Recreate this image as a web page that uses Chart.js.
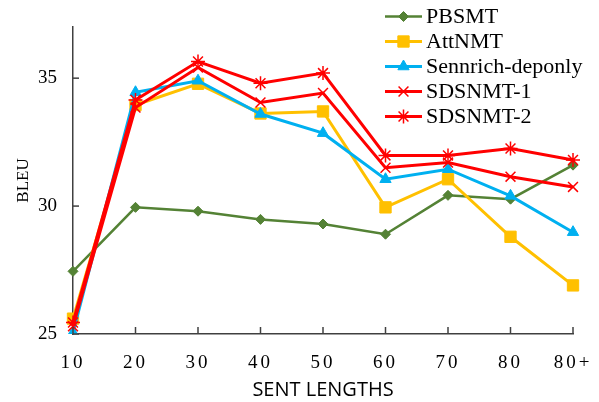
<!DOCTYPE html>
<html>
<head>
<meta charset="utf-8">
<script src="https://cdn.jsdelivr.net/npm/chart.js"></script>
<style>
html,body{margin:0;padding:0;background:#fff;}
#wrap{width:599px;height:402px;}
</style>
</head>
<body>
<div id="wrap"><canvas id="c" width="599" height="402"></canvas></div>
<script>
const categories = ['10','20','30','40','50','60','70','80','80+'];
const seriesNames = ['PBSMT','AttNMT','Sennrich-deponly','SDSNMT-1','SDSNMT-2'];
const pbsmt    = [27.45, 29.95, 29.8, 29.48, 29.3, 28.9, 30.42, 30.27, 31.6];
const attnmt   = [25.6, 33.95, 34.78, 33.62, 33.7, 29.95, 31.05, 28.8, 26.9];
const sennrich = [25.05, 34.45, 34.9, 33.6, 32.85, 31.05, 31.44, 30.4, 28.98];
const sdsnmt1  = [25.3, 33.85, 35.42, 34.05, 34.42, 31.5, 31.7, 31.15, 30.75];
const sdsnmt2  = [25.45, 34.15, 35.65, 34.8, 35.2, 31.98, 31.98, 32.25, 31.8];
const yTicks = [25, 30, 35];
const yMin = 25, yMax = 37;

const colors = ['#548235','#FFC000','#00B0F0','#FF0000','#FF0000'];
const styles = [
  {pointStyle:'rectRot', radius:5, lw:2.5, pbw:1},
  {pointStyle:'rect', radius:8, lw:3, pbw:1},
  {pointStyle:'triangle', radius:6.5, lw:3, pbw:1},
  {pointStyle:'crossRot', radius:7, lw:3, pbw:1.5},
  {pointStyle:'star', radius:7, lw:3, pbw:1.5}
];
const allData = [pbsmt, attnmt, sennrich, sdsnmt1, sdsnmt2];

const datasets = allData.map((d,i)=>({
  label: seriesNames[i],
  data: d,
  borderColor: colors[i],
  backgroundColor: colors[i],
  borderWidth: styles[i].lw,
  pointStyle: styles[i].pointStyle,
  pointRadius: styles[i].radius,
  pointHoverRadius: styles[i].radius,
  pointBorderWidth: styles[i].pbw,
  pointBackgroundColor: colors[i],
  pointBorderColor: colors[i],
  tension: 0,
  fill: false,
  order: 5 - i
}));

const AXIS_COLOR = '#404040';

function drawMarker(ctx, style, x, y, color){
  if (Chart.helpers && Chart.helpers.drawPoint){
    ctx.save();
    ctx.fillStyle = color; ctx.strokeStyle = color; ctx.lineWidth = style.pbw;
    Chart.helpers.drawPoint(ctx, {pointStyle: style.pointStyle, radius: style.radius, rotation: 0, borderWidth: style.pbw}, x, y);
    ctx.restore();
  }
}

const customPlugin = {
  id: 'custom',
  afterLayout(chart){
    const s = chart.scales.x;
    if (!s._lsWrapped){
      const orig = s.drawLabels.bind(s);
      s.drawLabels = function(ca){
        const ctx = chart.ctx;
        ctx.save();
        ctx.letterSpacing = '3px';
        orig(ca);
        ctx.restore();
      };
      s._lsWrapped = true;
    }
  },
  afterDraw(chart){
    const ctx = chart.ctx;
    const xs = chart.scales.x, ys = chart.scales.y;
    const ca = chart.chartArea;
    ctx.save();
    ctx.strokeStyle = AXIS_COLOR;
    ctx.lineWidth = 1.5;
    categories.forEach((c, i)=>{
      const px = xs.getPixelForValue(i);
      ctx.beginPath(); ctx.moveTo(px, ca.bottom); ctx.lineTo(px, ca.bottom - 7); ctx.stroke();
    });
    yTicks.forEach(v=>{
      const py = ys.getPixelForValue(v);
      ctx.beginPath(); ctx.moveTo(ca.left, py); ctx.lineTo(ca.left + 6, py); ctx.stroke();
    });
    ctx.restore();
    ctx.save();
    chart.data.datasets.forEach((ds, i)=>{
      const y = 16.5 + i*25;
      ctx.strokeStyle = ds.borderColor;
      ctx.lineWidth = ds.borderWidth;
      ctx.beginPath(); ctx.moveTo(385, y); ctx.lineTo(422, y); ctx.stroke();
      drawMarker(ctx, styles[i], 403.5, y, ds.borderColor);
      ctx.fillStyle = '#000';
      ctx.font = '22px "Liberation Serif", "Times New Roman", serif';
      ctx.textBaseline = 'middle';
      ctx.textAlign = 'left';
      ctx.fillText(ds.label, 426, y + 1);
    });
    ctx.restore();
  }
};

new Chart(document.getElementById('c'), {
  type: 'line',
  data: { labels: categories, datasets },
  options: {
    responsive: false,
    animation: false,
    devicePixelRatio: 1,
    layout: { padding: { top: 27, right: 26, left: 0, bottom: 0 } },
    plugins: { legend: { display: false }, tooltip: { enabled: false } },
    scales: {
      x: {
        offset: false,
        grid: { display: false, drawTicks: false },
        border: { display: true, color: AXIS_COLOR, width: 1.5 },
        ticks: {
          color: '#000',
          font: { family: '"Liberation Serif", "Times New Roman", serif', size: 19 },
          padding: 18,
          maxRotation: 0,
          autoSkip: false
        },
        title: {
          display: true,
          text: 'SENT LENGTHS',
          color: '#000',
          font: { family: '"Open Sans", sans-serif', size: 20 },
          padding: { top: 0, bottom: 0 }
        },
        afterFit(scale){ scale.height = 68; scale.paddingLeft = 0; scale.paddingRight = 0; }
      },
      y: {
        min: yMin, max: yMax,
        grid: { display: false, drawTicks: false },
        border: { display: true, color: AXIS_COLOR, width: 1.5 },
        afterBuildTicks(scale){ scale.ticks = yTicks.map(v=>({value:v})); },
        ticks: {
          color: '#000',
          font: { family: '"Liberation Serif", "Times New Roman", serif', size: 19 },
          padding: 16
        },
        title: {
          display: true,
          text: 'BLEU',
          color: '#000',
          font: { family: '"Liberation Serif", "Times New Roman", serif', size: 17 },
          padding: { top: 13, bottom: 0 }
        },
        afterFit(scale){ scale.width = 73; scale.paddingTop = 0; scale.paddingBottom = 0; }
      }
    }
  },
  plugins: [customPlugin]
});
</script>
</body>
</html>
